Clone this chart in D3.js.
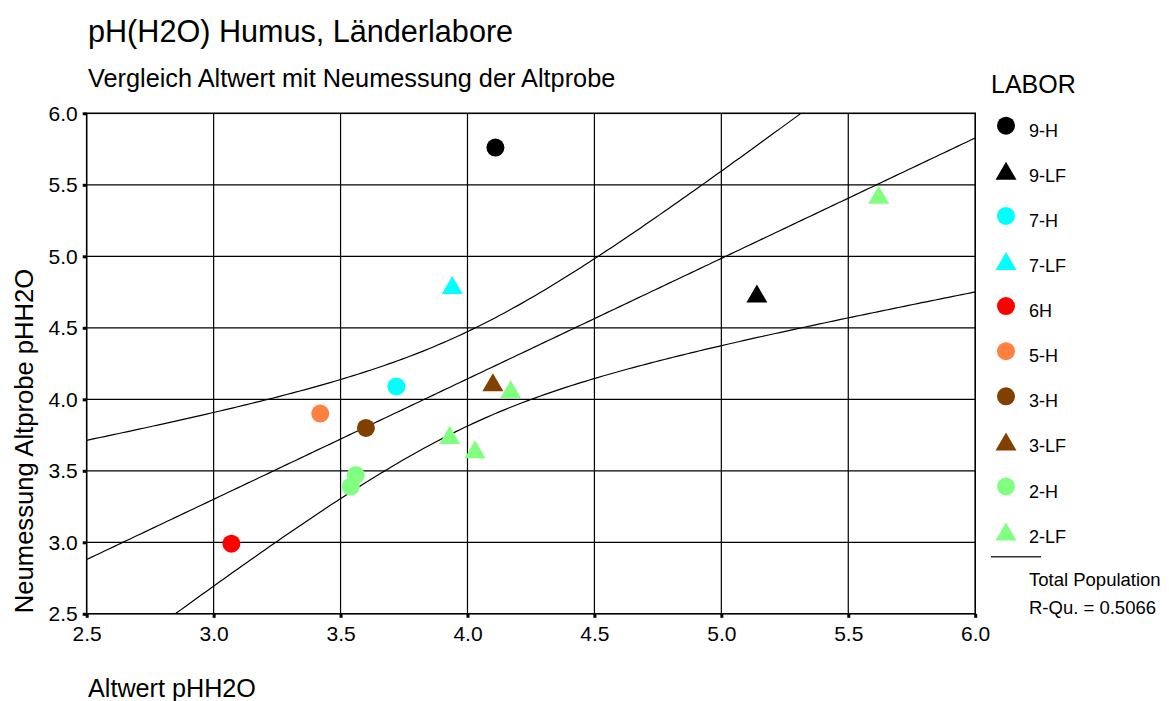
<!DOCTYPE html>
<html>
<head>
<meta charset="utf-8">
<script src="https://cdn.jsdelivr.net/npm/d3@7"></script>
<style>
  body { margin: 0; background: #fff; }
  svg { display: block; font-family: "Liberation Sans", Arial, sans-serif; }
</style>
</head>
<body>
<svg id="chart" width="1169" height="701"></svg>
<script>
// pH(H2O) Humus - Altwert vs. Neumessung der Altprobe

// legend categories (LABOR) and their colours / shapes
const labors = ["9-H", "9-LF", "7-H", "7-LF", "6H", "5-H", "3-H", "3-LF", "2-H", "2-LF"];
const laborColors = ["#000000", "#000000", "#00ffff", "#00ffff", "#ff0000", "#ff8040", "#804000", "#804000", "#80ff80", "#80ff80"];
const laborShapes = ["circle", "triangle", "circle", "triangle", "circle", "circle", "circle", "triangle", "circle", "triangle"];

// samples: lab, old value (x), re-measurement of old sample (y)
const pointLabor = ["9-H", "9-LF", "7-H", "7-LF", "6H", "5-H", "3-H", "3-LF", "2-H", "2-H", "2-LF", "2-LF", "2-LF", "2-LF"];
const altwert    = [4.11, 5.14, 3.72, 3.94, 3.07, 3.42, 3.60, 4.10, 3.56, 3.54, 5.62, 4.17, 3.93, 4.03];
const neumessung = [5.76, 4.74, 4.09, 4.80, 2.99, 3.90, 3.80, 4.12, 3.47, 3.39, 5.43, 4.07, 3.75, 3.65];

const xTicks = [2.5, 3.0, 3.5, 4.0, 4.5, 5.0, 5.5, 6.0];
const yTicks = [2.5, 3.0, 3.5, 4.0, 4.5, 5.0, 5.5, 6.0];

const titleText = "pH(H2O) Humus, Länderlabore";
const subtitleText = "Vergleich Altwert mit Neumessung der Altprobe";
const xTitle = "Altwert pHH2O";
const yTitle = "Neumessung Altprobe pHH2O";
const fitLabel = ["Total Population", "R-Qu. = 0.5066"];

// t quantile (0.975) for n - 2 = 12 degrees of freedom, for the 95% mean band
const T_CRIT = 2.1788;

// plot frame
const plotLeft = 86.7, plotRight = 975.2, plotTop = 113.3, plotBottom = 613.8;

const svg = d3.select("#chart");

const x = d3.scaleLinear().domain([2.5, 6.0]).range([plotLeft, plotRight]);
const y = d3.scaleLinear().domain([2.5, 6.0]).range([plotBottom, plotTop]);

// titles
svg.append("text").attr("x", 88).attr("y", 42).attr("font-size", 30.6).text(titleText);
svg.append("text").attr("x", 88).attr("y", 87).attr("font-size", 25.3).text(subtitleText);
svg.append("text").attr("x", 88).attr("y", 697).attr("font-size", 25.2).text(xTitle);
svg.append("text")
  .attr("transform", "translate(33,441) rotate(-90)")
  .attr("text-anchor", "middle")
  .attr("font-size", 25.6)
  .text(yTitle);

// grid
const grid = svg.append("g").attr("stroke", "#000").attr("stroke-width", 1.2);
grid.selectAll("line.v")
  .data(xTicks.slice(1, -1))
  .join("line")
    .attr("class", "v")
    .attr("x1", d => x(d)).attr("x2", d => x(d))
    .attr("y1", plotTop).attr("y2", plotBottom);
grid.selectAll("line.h")
  .data(yTicks.slice(1, -1))
  .join("line")
    .attr("class", "h")
    .attr("x1", plotLeft).attr("x2", plotRight)
    .attr("y1", d => y(d)).attr("y2", d => y(d));

// axes (small square tick marks, labels)
const xAxis = svg.append("g")
  .attr("transform", `translate(0,${plotBottom})`)
  .call(d3.axisBottom(x).tickValues(xTicks).tickFormat(d3.format(".1f")).tickSizeInner(4).tickSizeOuter(0).tickPadding(8));
const yAxis = svg.append("g")
  .attr("transform", `translate(${plotLeft},0)`)
  .call(d3.axisLeft(y).tickValues(yTicks).tickFormat(d3.format(".1f")).tickSizeInner(4).tickSizeOuter(0).tickPadding(5));
[xAxis, yAxis].forEach(a => {
  a.select(".domain").remove();
  a.selectAll(".tick line").attr("stroke", "#000").attr("stroke-width", 3);
  a.selectAll(".tick text")
    .attr("fill", "#000")
    .attr("font-size", 21)
    .attr("font-family", "Liberation Sans, Arial, sans-serif");
});

// regression line + 95% confidence band of the mean, from the samples
const n = altwert.length;
const mx = d3.mean(altwert), my = d3.mean(neumessung);
const sxx = d3.sum(altwert, v => (v - mx) ** 2);
const sxy = d3.sum(altwert, (v, i) => (v - mx) * (neumessung[i] - my));
const slope = sxy / sxx;
const intercept = my - slope * mx;
const sse = d3.sum(altwert, (v, i) => (neumessung[i] - (intercept + slope * v)) ** 2);
const s = Math.sqrt(sse / (n - 2));
const fit = v => intercept + slope * v;
const half = v => T_CRIT * s * Math.sqrt(1 / n + (v - mx) ** 2 / sxx);

svg.append("clipPath").attr("id", "plot-clip")
  .append("rect").attr("x", plotLeft).attr("y", plotTop).attr("width", plotRight - plotLeft).attr("height", plotBottom - plotTop);

const xs = d3.range(0, 201).map(i => x.domain()[0] + i * (x.domain()[1] - x.domain()[0]) / 200);
const line = d3.line().x(d => x(d[0])).y(d => y(d[1]));

const curves = svg.append("g")
  .attr("clip-path", "url(#plot-clip)")
  .attr("fill", "none")
  .attr("stroke", "#000")
  .attr("stroke-width", 1.2);
curves.append("path").attr("d", line(xs.map(v => [v, fit(v)])));
curves.append("path").attr("d", line(xs.map(v => [v, fit(v) + half(v)])));
curves.append("path").attr("d", line(xs.map(v => [v, fit(v) - half(v)])));

// frame
svg.append("rect")
  .attr("x", plotLeft).attr("y", plotTop)
  .attr("width", plotRight - plotLeft).attr("height", plotBottom - plotTop)
  .attr("fill", "none").attr("stroke", "#000").attr("stroke-width", 1.6);

// marks
const triangle = "M0,-9L10.5,9L-10.5,9Z";
const colorOf = d3.scaleOrdinal().domain(labors).range(laborColors);
const shapeOf = d3.scaleOrdinal().domain(labors).range(laborShapes);

function drawSymbol(g, shape, color) {
  if (shape === "circle") g.append("circle").attr("r", 9).attr("fill", color);
  else g.append("path").attr("d", triangle).attr("fill", color);
}

svg.append("g")
  .selectAll("g")
  .data(d3.range(n))
  .join("g")
    .attr("transform", i => `translate(${x(altwert[i])},${y(neumessung[i])})`)
    .each(function (i) { drawSymbol(d3.select(this), shapeOf(pointLabor[i]), colorOf(pointLabor[i])); });

// legend
const legend = svg.append("g");
legend.append("text").attr("x", 991).attr("y", 93).attr("font-size", 25).text("LABOR");
const items = legend.selectAll("g.item")
  .data(labors)
  .join("g")
    .attr("class", "item")
    .attr("transform", (d, i) => `translate(1006,${125.7 + 45.1 * i})`);
items.each(function (d) { drawSymbol(d3.select(this), shapeOf(d), colorOf(d)); });
items.append("text").attr("x", 23).attr("y", 11).attr("font-size", 18).text(d => d);

legend.append("line")
  .attr("x1", 991).attr("x2", 1041).attr("y1", 556.7).attr("y2", 556.7)
  .attr("stroke", "#333").attr("stroke-width", 1.5);
legend.selectAll("text.fit")
  .data(fitLabel)
  .join("text")
    .attr("class", "fit")
    .attr("x", 1029)
    .attr("y", (d, i) => 586 + 28 * i)
    .attr("font-size", 18.5)
    .text(d => d);
</script>
</body>
</html>
